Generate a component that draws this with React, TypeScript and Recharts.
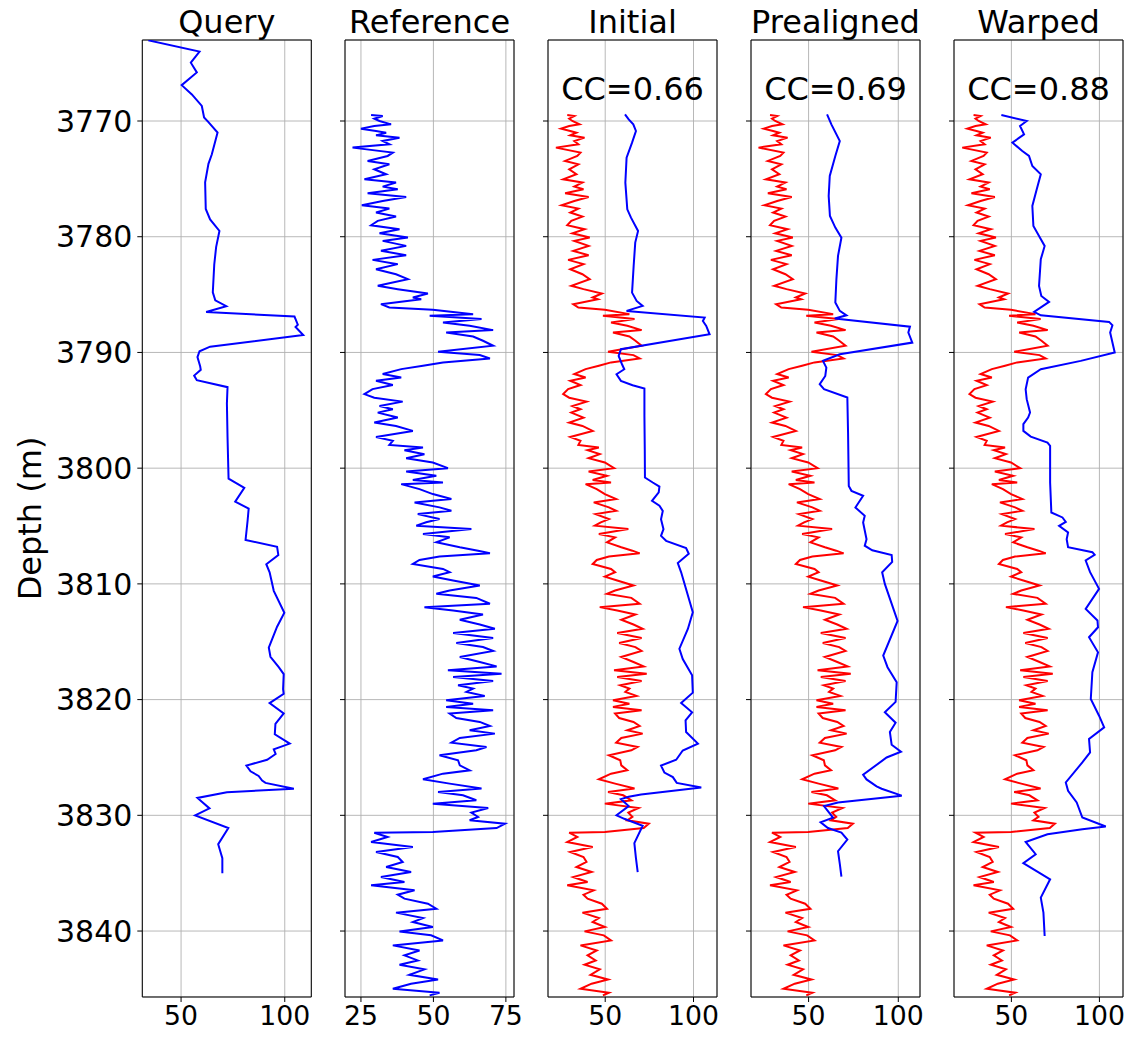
import React from 'react';
import { LineChart, Line, XAxis, YAxis, CartesianGrid, ReferenceArea, Label } from 'recharts';

const panelTitles = ['Query', 'Reference', 'Initial', 'Prealigned', 'Warped'];
const ccLabels = ['', '', 'CC=0.66', 'CC=0.69', 'CC=0.88'];
const depthTicks = [3770, 3780, 3790, 3800, 3810, 3820, 3830, 3840];
const depthDomain: [number, number] = [3763.0, 3845.7];
const queryTicks = [50, 100];
const referenceTicks = [25, 50, 75];
const alignTicks = [50, 100];
const xDomains: [number, number][] = [
  [31.3, 112.8],
  [19.5, 77.8],
  [17.6, 113.3],
  [17.9, 112.1],
  [17.4, 113.4],
];

// [depth, value]
const queryLog: [number, number][] = [
  [3763.03, 34.2], [3764.0, 58.9], [3764.96, 54.7], [3765.8, 57.6], [3766.9, 50.3], [3767.7, 55.2],
  [3768.7, 60.0], [3769.7, 61.1], [3770.1, 63.2], [3771.0, 67.6], [3772.9, 64.8], [3773.7, 63.2],
  [3775.3, 61.6], [3777.6, 61.9], [3778.5, 64.0], [3779.5, 68.5], [3780.9, 66.9], [3782.4, 66.0],
  [3784.8, 65.3], [3785.5, 66.5], [3786.0, 71.8], [3786.5, 62.1], [3786.9, 104.7], [3787.6, 106.3],
  [3787.8, 105.2], [3788.5, 108.9], [3789.5, 64.0], [3789.9, 58.9], [3790.4, 57.9], [3791.2, 59.2],
  [3791.5, 59.5], [3792.0, 56.3], [3792.4, 57.6], [3793.0, 72.4], [3794.4, 72.1], [3797.3, 72.4],
  [3800.9, 72.9], [3801.7, 80.5], [3802.9, 76.1], [3803.5, 82.6], [3804.5, 82.1], [3806.2, 81.1],
  [3806.8, 96.3], [3807.5, 96.9], [3808.3, 91.1], [3809.0, 92.7], [3810.6, 94.7], [3812.5, 99.8],
  [3813.7, 96.3], [3815.5, 92.3], [3816.3, 93.1], [3817.2, 97.1], [3817.8, 99.5], [3819.1, 99.2],
  [3819.5, 99.5], [3820.3, 92.7], [3821.2, 99.5], [3822.1, 95.5], [3823.0, 95.2], [3823.8, 102.4],
  [3824.3, 94.7], [3824.7, 95.6], [3825.2, 91.5], [3825.7, 81.5], [3826.2, 83.5], [3826.6, 87.4],
  [3827.0, 89.1], [3827.2, 90.7], [3827.7, 104.4], [3828.0, 72.1], [3828.5, 57.9], [3829.4, 63.7],
  [3830.0, 56.8], [3831.1, 72.8], [3832.5, 67.9], [3833.7, 69.9], [3835.0, 69.9],
];

const referenceLog: [number, number][] = [
  [3769.48, 28.5], [3769.57, 32.5], [3769.8, 29.6], [3770.0, 31.4], [3770.29, 35.4], [3770.43, 29.6],
  [3770.66, 25.0], [3770.86, 30.2], [3771.01, 33.7], [3771.24, 30.2], [3771.44, 38.3], [3771.73, 32.5],
  [3772.01, 34.8], [3772.3, 22.1], [3772.73, 36.0], [3773.02, 34.2], [3773.45, 27.3], [3773.74, 34.8],
  [3774.17, 29.6], [3774.6, 33.7], [3775.04, 26.2], [3775.32, 37.1], [3775.67, 32.5], [3775.9, 37.7],
  [3776.24, 27.3], [3776.56, 40.6], [3776.91, 32.5], [3777.28, 25.3], [3777.57, 34.8], [3777.91, 30.2],
  [3778.26, 37.1], [3778.63, 30.8], [3779.01, 28.5], [3779.35, 38.3], [3779.7, 31.4], [3780.07, 41.2],
  [3780.36, 32.5], [3780.79, 40.6], [3781.22, 31.9], [3781.6, 40.6], [3782.0, 29.0], [3782.37, 37.7],
  [3782.81, 30.2], [3783.24, 37.1], [3783.67, 41.2], [3784.24, 30.8], [3784.53, 37.7], [3784.91, 48.1],
  [3785.25, 42.9], [3785.4, 45.8], [3785.83, 31.9], [3786.12, 34.8], [3786.32, 49.8], [3786.69, 63.7],
  [3786.83, 48.7], [3787.12, 66.6], [3787.41, 53.3], [3787.7, 62.5], [3788.07, 70.6], [3788.27, 54.4],
  [3788.62, 63.7], [3788.99, 67.1], [3789.42, 70.6], [3789.94, 51.6], [3790.23, 66.0], [3790.52, 69.5],
  [3790.86, 53.3], [3791.15, 46.4], [3791.44, 38.9], [3791.87, 32.5], [3792.16, 38.9], [3792.45, 30.2],
  [3792.82, 36.0], [3793.17, 29.0], [3793.6, 26.2], [3793.91, 29.6], [3794.25, 39.4], [3794.63, 31.4],
  [3794.91, 36.0], [3795.2, 30.8], [3795.63, 37.7], [3796.06, 29.6], [3796.35, 37.1], [3796.78, 42.9],
  [3797.3, 30.2], [3797.64, 36.0], [3797.99, 34.8], [3798.22, 46.4], [3798.45, 40.0], [3798.79, 46.9],
  [3799.14, 40.6], [3799.51, 49.8], [3800.0, 55.0], [3800.29, 40.6], [3800.66, 51.0], [3801.03, 42.9],
  [3801.24, 53.3], [3801.38, 38.9], [3801.81, 45.2], [3802.24, 49.8], [3802.67, 56.2], [3802.96, 43.5],
  [3803.39, 52.1], [3803.68, 56.2], [3803.97, 44.6], [3804.4, 52.1], [3804.68, 47.5], [3804.97, 44.1],
  [3805.26, 63.1], [3805.69, 46.4], [3805.98, 55.6], [3806.41, 51.0], [3806.84, 59.1], [3807.13, 65.4],
  [3807.36, 69.5], [3807.64, 52.1], [3807.93, 45.2], [3808.28, 42.9], [3808.71, 53.3], [3808.99, 55.6],
  [3809.37, 49.8], [3809.71, 56.8], [3810.14, 66.0], [3810.57, 55.6], [3810.86, 51.0], [3811.21, 64.8],
  [3811.72, 69.5], [3812.01, 46.9], [3812.3, 56.8], [3812.64, 67.1], [3813.1, 59.1], [3813.51, 66.0],
  [3813.88, 71.2], [3814.25, 56.8], [3814.68, 70.6], [3815.11, 57.9], [3815.46, 67.1], [3815.8, 70.6],
  [3816.32, 59.1], [3816.75, 66.0], [3817.13, 71.8], [3817.47, 55.0], [3817.76, 73.5], [3818.05, 56.8],
  [3818.39, 70.6], [3818.76, 58.5], [3819.05, 63.7], [3819.34, 61.4], [3819.68, 67.7], [3820.06, 54.4],
  [3820.35, 63.7], [3820.63, 54.4], [3820.92, 70.6], [3821.21, 55.6], [3821.59, 57.9], [3821.93, 66.0],
  [3822.28, 69.5], [3822.65, 62.5], [3822.94, 71.2], [3823.31, 59.1], [3823.72, 56.2], [3824.09, 68.3],
  [3824.38, 64.8], [3824.81, 52.1], [3825.24, 58.5], [3825.68, 59.1], [3826.11, 62.5], [3826.4, 53.3],
  [3826.89, 46.4], [3827.26, 55.6], [3827.69, 66.6], [3827.98, 51.6], [3828.27, 60.2], [3828.7, 64.8],
  [3828.99, 49.8], [3829.37, 68.9], [3829.77, 63.1], [3830.14, 65.4], [3830.43, 62.5], [3830.72, 74.7],
  [3831.1, 71.8], [3831.44, 49.8], [3831.5, 29.6], [3831.87, 34.2], [3832.31, 28.5], [3832.74, 42.9],
  [3833.17, 30.2], [3833.6, 37.7], [3834.03, 39.4], [3834.47, 33.7], [3834.9, 42.3], [3835.33, 31.9],
  [3835.76, 40.0], [3836.05, 28.5], [3836.48, 43.5], [3836.86, 37.7], [3837.2, 40.0], [3837.64, 48.1],
  [3838.07, 51.0], [3838.41, 37.1], [3838.88, 46.4], [3839.22, 42.9], [3839.65, 49.8], [3840.03, 38.3],
  [3840.37, 49.2], [3840.81, 53.3], [3841.24, 36.0], [3841.68, 45.2], [3842.1, 40.0], [3842.54, 44.6],
  [3842.91, 38.3], [3843.31, 46.9], [3843.78, 41.7], [3844.18, 51.6], [3844.55, 42.3], [3844.99, 36.0],
  [3845.33, 52.1], [3845.56, 48.7],
];

const initialLog: [number, number][] = [
  [3769.42, 61.2], [3769.86, 63.3], [3770.29, 65.9], [3770.86, 67.4], [3771.87, 65.2], [3773.17, 62.1],
  [3775.33, 61.4], [3777.63, 62.5], [3778.35, 64.6], [3779.5, 68.6], [3780.51, 67.0], [3782.53, 66.1],
  [3784.83, 65.2], [3785.55, 67.8], [3785.98, 71.2], [3786.41, 62.1], [3786.99, 106.3], [3787.28, 105.3],
  [3787.71, 107.2], [3788.43, 109.1], [3789.72, 58.9], [3790.3, 57.6], [3791.02, 59.5], [3791.45, 60.8],
  [3791.88, 56.4], [3792.46, 58.9], [3792.83, 65.5], [3793.12, 72.2], [3795.48, 72.2], [3798.36, 72.4],
  [3800.81, 72.5], [3801.24, 76.9], [3801.59, 80.7], [3802.1, 80.3], [3802.82, 76.5], [3803.25, 80.7],
  [3803.69, 82.6], [3804.41, 81.6], [3805.27, 83.0], [3805.85, 81.6], [3806.28, 84.5], [3806.9, 95.8],
  [3807.4, 97.3], [3808.2, 91.1], [3809.0, 93.0], [3812.45, 99.6], [3813.9, 96.8], [3815.6, 92.0],
  [3816.5, 93.9], [3817.9, 99.2], [3819.4, 99.6], [3820.3, 93.0], [3821.1, 99.2], [3821.8, 95.5],
  [3822.8, 95.8], [3823.8, 102.5], [3824.4, 93.9], [3825.2, 90.2], [3825.7, 81.6], [3826.3, 83.5],
  [3826.7, 88.3], [3827.2, 90.5], [3827.6, 104.4], [3828.2, 70.3], [3828.4, 63.3], [3828.6, 58.9],
  [3829.2, 63.3], [3830.0, 56.4], [3830.3, 60.8], [3830.9, 71.2], [3832.4, 66.5], [3833.7, 67.4],
  [3834.9, 68.4],
];

const prealignedLog: [number, number][] = [
  [3769.42, 60.3], [3770.29, 62.7], [3771.73, 67.4], [3773.02, 64.9], [3774.75, 61.8], [3776.48, 61.2],
  [3778.21, 61.9], [3779.21, 64.9], [3780.08, 68.3], [3781.66, 66.4], [3783.68, 65.5], [3785.69, 64.9],
  [3786.41, 67.4], [3786.79, 71.1], [3787.07, 64.6], [3787.77, 106.5], [3788.28, 105.6], [3789.15, 107.8],
  [3790.16, 67.4], [3790.73, 58.0], [3791.31, 59.9], [3792.03, 59.3], [3792.75, 56.2], [3793.18, 58.6],
  [3793.9, 71.6], [3796.92, 72.0], [3801.53, 72.4], [3801.96, 73.9], [3802.39, 80.4], [3803.4, 76.1],
  [3804.12, 81.3], [3804.7, 80.4], [3806.14, 82.3], [3806.7, 81.3], [3807.1, 85.5], [3807.5, 96.3],
  [3808.1, 96.6], [3809.0, 91.0], [3810.0, 92.5], [3813.2, 99.6], [3816.2, 91.6], [3817.2, 94.0],
  [3818.5, 99.1], [3820.2, 98.5], [3821.1, 92.5], [3822.0, 98.5], [3822.8, 95.3], [3823.9, 96.3],
  [3824.5, 101.5], [3825.0, 93.5], [3826.5, 80.4], [3826.9, 82.3], [3827.5, 87.9], [3827.7, 90.7],
  [3828.3, 101.9], [3828.9, 66.4], [3829.2, 58.6], [3830.2, 63.6], [3830.6, 56.7], [3831.1, 60.8],
  [3831.5, 68.3], [3832.1, 71.6], [3833.1, 66.4], [3834.2, 67.4], [3835.3, 68.3],
];

const warpedLog: [number, number][] = [
  [3769.48, 44.3], [3770.0, 58.7], [3770.43, 54.9], [3771.15, 57.2], [3771.87, 50.6], [3772.59, 56.2],
  [3773.02, 60.0], [3773.89, 61.9], [3774.61, 66.7], [3775.9, 64.4], [3777.34, 61.9], [3779.07, 62.5],
  [3779.93, 65.7], [3780.8, 68.9], [3781.95, 66.7], [3784.25, 65.7], [3785.12, 67.0], [3785.63, 71.4],
  [3786.5, 62.9], [3786.79, 66.7], [3787.36, 105.5], [3787.65, 107.4], [3788.28, 106.1], [3790.01, 108.7],
  [3790.73, 89.4], [3791.45, 66.7], [3792.17, 59.5], [3793.18, 58.1], [3794.04, 58.7], [3795.19, 60.6],
  [3795.63, 59.5], [3796.2, 56.8], [3796.78, 56.8], [3797.27, 61.0], [3797.79, 70.5], [3798.07, 72.0],
  [3801.24, 72.0], [3803.83, 72.7], [3804.26, 79.0], [3804.64, 80.9], [3804.98, 77.1], [3805.56, 82.2],
  [3806.14, 81.4], [3806.83, 82.2], [3807.26, 96.0], [3807.49, 97.3], [3807.98, 92.2], [3808.99, 94.7],
  [3810.43, 99.8], [3812.16, 92.2], [3813.17, 98.9], [3813.75, 99.2], [3814.61, 94.1], [3815.91, 99.2],
  [3817.64, 96.0], [3819.95, 95.1], [3821.39, 99.8], [3822.4, 102.7], [3823.41, 94.1], [3824.57, 94.7],
  [3825.43, 90.3], [3827.16, 80.9], [3827.88, 82.2], [3828.89, 87.1], [3830.19, 90.3], [3830.97, 103.6],
  [3831.2, 90.3], [3831.63, 70.5], [3832.3, 58.1], [3833.36, 63.8], [3834.14, 56.8], [3834.95, 65.7],
  [3835.53, 72.0], [3837.11, 66.7], [3838.41, 68.2], [3840.43, 68.9],
];

const toRows = (log: [number, number][]) => log.map(([d, v]) => ({ d, v }));

const BLUE = '#0000ff';
const RED = '#ff0000';
const FONT = 'DejaVu Sans';
const XTICK_FS = 26.7;
const YTICK_FS = 30;
const TITLE_FS = 32;
const LABEL_FS = 32;

const PLOT_W = 169;
const PLOT_TOP = 40;
const CHART_H = 1039;
const X_AXIS_H = 42;
const RIGHT_PAD = 24;
const panelLefts = [142.3, 345.3, 548.3, 751.3, 954.3];

type Series = { rows: { d: number; v: number }[]; color: string };

function Panel(props: { index: number; xTicks: number[]; series: Series[] }) {
  const { index, xTicks, series } = props;
  const first = index === 0;
  const yw = first ? 142.3 : 20;
  const left = panelLefts[index] - yw;
  const xDomain = xDomains[index];
  const cc = ccLabels[index];
  return (
    <div style={{ position: 'absolute', left, top: 0 }}>
      <LineChart
        layout="vertical"
        width={yw + PLOT_W + RIGHT_PAD}
        height={CHART_H}
        margin={{ top: PLOT_TOP, right: RIGHT_PAD, bottom: 0, left: 0 }}
      >
        <CartesianGrid stroke="#b0b0b0" strokeWidth={0.9} />
        <XAxis
          type="number"
          dataKey="v"
          domain={xDomain}
          ticks={xTicks}
          interval={0}
          allowDataOverflow
          height={X_AXIS_H}
          axisLine={false}
          tickSize={5}
          tickMargin={4}
          tickLine={{ stroke: '#000' }}
          tick={{ fontSize: XTICK_FS, fill: '#000', fontFamily: FONT }}
        />
        <YAxis
          type="number"
          dataKey="d"
          domain={depthDomain}
          ticks={depthTicks}
          interval={0}
          allowDataOverflow
          width={yw}
          axisLine={false}
          tickSize={5}
          tickMargin={5}
          tickLine={{ stroke: '#000' }}
          tick={{ fontSize: YTICK_FS, fill: '#000', fontFamily: FONT }}
          tickFormatter={first ? (v: number) => String(v) : () => ''}
          label={
            first
              ? {
                  value: 'Depth (m)',
                  angle: -90,
                  position: 'insideLeft',
                  offset: 30,
                  fontSize: LABEL_FS,
                  fill: '#000',
                  fontFamily: FONT,
                  style: { textAnchor: 'middle' },
                }
              : undefined
          }
        />
        {series.map((s, i) => (
          <Line
            key={i}
            data={s.rows}
            dataKey="v"
            stroke={s.color}
            strokeWidth={2}
            dot={false}
            activeDot={false}
            isAnimationActive={false}
            type="linear"
          />
        ))}
        <ReferenceArea
          x1={xDomain[0]}
          x2={xDomain[1]}
          y1={depthDomain[0]}
          y2={depthDomain[1]}
          fill="none"
          fillOpacity={0}
          stroke="#000"
          strokeWidth={1}
          strokeOpacity={1}
          ifOverflow="visible"
        >
          <Label value={panelTitles[index]} position="top" offset={7} fontSize={TITLE_FS} fill="#000" fontFamily={FONT} />
          {cc ? (
            <Label value={cc} position="insideTop" offset={37} fontSize={TITLE_FS} fill="#000" fontFamily={FONT} />
          ) : null}
        </ReferenceArea>
      </LineChart>
    </div>
  );
}

export default function App() {
  const q = toRows(queryLog);
  const r = toRows(referenceLog);
  const ini = toRows(initialLog);
  const pre = toRows(prealignedLog);
  const w = toRows(warpedLog);
  return (
    <div
      style={{
        position: 'absolute',
        left: 0,
        top: 0,
        width: 1137,
        height: 1039,
        background: '#fff',
        fontFamily: FONT,
        overflow: 'hidden',
      }}
    >
      <Panel index={0} xTicks={queryTicks} series={[{ rows: q, color: BLUE }]} />
      <Panel index={1} xTicks={referenceTicks} series={[{ rows: r, color: BLUE }]} />
      <Panel index={2} xTicks={alignTicks} series={[{ rows: r, color: RED }, { rows: ini, color: BLUE }]} />
      <Panel index={3} xTicks={alignTicks} series={[{ rows: r, color: RED }, { rows: pre, color: BLUE }]} />
      <Panel index={4} xTicks={alignTicks} series={[{ rows: r, color: RED }, { rows: w, color: BLUE }]} />
    </div>
  );
}
